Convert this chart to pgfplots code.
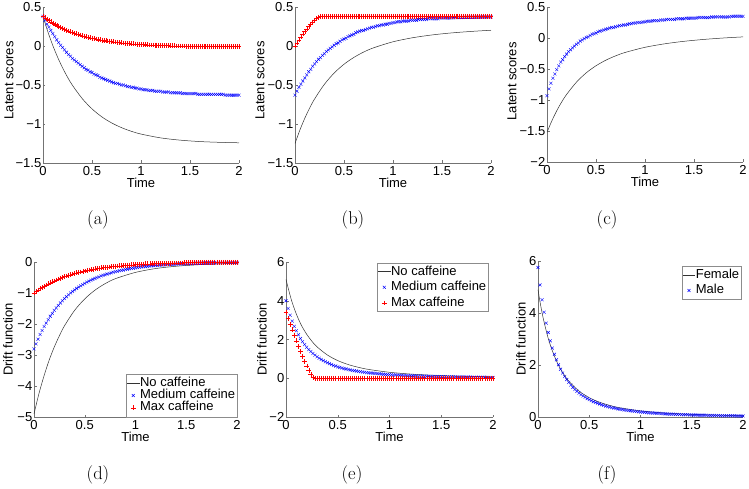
\documentclass[border=0pt]{standalone}
\usepackage{fontspec}
\newfontfamily\plotfont{Liberation Sans}
\usepackage{pgfplots}
\usepackage{pgfplotstable}
\pgfplotsset{compat=1.18}
\pgfplotsset{
 panel/.style={
  scale only axis, anchor=south west, clip=false,
  axis x line*=bottom, axis y line*=left,
  xmin=0, xmax=2, xtick={0,0.5,1,1.5,2}, xticklabels={0,0.5,1,1.5,2},
  tick align=inside, major tick length=2.5pt,
  axis line style={black!55, line width=0.5pt},
  every tick/.style={black!55, line width=0.5pt},
  tick label style={font=\plotfont\fontsize{13}{13}\selectfont},
  yticklabel style={inner xsep=1.5pt},
  label style={font=\plotfont\fontsize{13}{13}\selectfont},
  xlabel={Time},
  xlabel style={at={(axis description cs:0.5,0)}, anchor=center, yshift=-20pt},
  legend cell align=left,
  legend image code/.code={\draw[mark repeat=2,mark phase=2,##1] plot coordinates {(0cm,0cm) (0.21cm,0cm) (0.42cm,0cm)};},
  legend style={font=\plotfont\fontsize{13}{13}\selectfont, draw=black!45, line width=0.4pt, inner xsep=1pt, inner ysep=2pt,
    nodes={inner sep=0.6pt, text height=9.5pt, text depth=2.5pt}, row sep=2.5pt},
 },
 blk/.style={draw=black!80, line width=0.5pt, no markers, smooth},
 blu/.style={only marks, mark=x, mark size=2.1pt, blue, mark options={line width=0.4pt}},
 rd/.style={only marks, mark=+, mark size=2.4pt, red, mark options={line width=0.4pt}},
}
\pgfplotstableread{
t blue red
0 0.38 0.380
0.02 0.33 0.361
0.04 0.28 0.343
0.06 0.24 0.325
0.08 0.20 0.309
0.1 0.16 0.293
0.12 0.12 0.278
0.14 0.08 0.264
0.16 0.045 0.251
0.18 0.01 0.238
0.2 -0.02 0.226
0.22 -0.05 0.214
0.24 -0.08 0.203
0.26 -0.11 0.193
0.28 -0.13 0.183
0.3 -0.16 0.173
0.32 -0.18 0.164
0.34 -0.20 0.156
0.36 -0.22 0.147
0.38 -0.24 0.140
0.4 -0.26 0.132
0.42 -0.28 0.125
0.44 -0.30 0.119
0.46 -0.31 0.112
0.48 -0.33 0.106
0.5 -0.34 0.100
0.52 -0.36 0.095
0.54 -0.37 0.090
0.56 -0.38 0.085
0.58 -0.40 0.080
0.6 -0.41 0.075
0.62 -0.42 0.071
0.64 -0.43 0.067
0.66 -0.44 0.063
0.68 -0.45 0.060
0.7 -0.46 0.056
0.72 -0.47 0.053
0.74 -0.48 0.050
0.76 -0.48 0.047
0.78 -0.49 0.044
0.8 -0.50 0.041
0.82 -0.50 0.038
0.84 -0.51 0.036
0.86 -0.52 0.034
0.88 -0.52 0.031
0.9 -0.53 0.029
0.92 -0.53 0.027
0.94 -0.54 0.025
0.96 -0.54 0.024
0.98 -0.55 0.022
1 -0.55 0.020
1.02 -0.56 0.019
1.04 -0.56 0.017
1.06 -0.56 0.016
1.08 -0.57 0.014
1.1 -0.57 0.013
1.12 -0.57 0.012
1.14 -0.58 0.011
1.16 -0.58 0.010
1.18 -0.58 0.009
1.2 -0.58 0.008
1.22 -0.59 0.007
1.24 -0.59 0.006
1.26 -0.59 0.005
1.28 -0.59 0.004
1.3 -0.60 0.003
1.32 -0.60 0.002
1.34 -0.60 0.002
1.36 -0.60 0.001
1.38 -0.60 0.000
1.4 -0.60 0.000
1.42 -0.61 -0.001
1.44 -0.61 -0.001
1.46 -0.61 -0.002
1.48 -0.61 -0.002
1.5 -0.61 -0.003
1.52 -0.61 -0.003
1.54 -0.61 -0.004
1.56 -0.61 -0.004
1.58 -0.62 -0.004
1.6 -0.62 -0.005
1.62 -0.62 -0.005
1.64 -0.62 -0.005
1.66 -0.62 -0.006
1.68 -0.62 -0.006
1.7 -0.62 -0.006
1.72 -0.62 -0.007
1.74 -0.62 -0.007
1.76 -0.62 -0.007
1.78 -0.62 -0.007
1.8 -0.62 -0.008
1.82 -0.62 -0.008
1.84 -0.62 -0.008
1.86 -0.63 -0.008
1.88 -0.63 -0.008
1.9 -0.63 -0.009
1.92 -0.63 -0.009
1.94 -0.63 -0.009
1.96 -0.63 -0.009
1.98 -0.63 -0.009
2 -0.63 -0.009
}\tabA
\pgfplotstableread{
t blue red
0 -0.63 0.000
0.02 -0.58 0.040
0.04 -0.53 0.079
0.06 -0.49 0.117
0.08 -0.45 0.153
0.1 -0.41 0.188
0.12 -0.37 0.220
0.14 -0.33 0.251
0.16 -0.30 0.280
0.18 -0.26 0.307
0.2 -0.23 0.331
0.22 -0.20 0.352
0.24 -0.17 0.370
0.26 -0.15 0.380
0.28 -0.12 0.380
0.3 -0.10 0.380
0.32 -0.07 0.380
0.34 -0.05 0.380
0.36 -0.03 0.380
0.38 -0.01 0.380
0.4 0.01 0.380
0.42 0.03 0.380
0.44 0.04 0.380
0.46 0.06 0.380
0.48 0.08 0.380
0.5 0.09 0.380
0.52 0.10 0.380
0.54 0.12 0.380
0.56 0.13 0.380
0.58 0.14 0.380
0.6 0.15 0.380
0.62 0.17 0.380
0.64 0.18 0.380
0.66 0.19 0.380
0.68 0.20 0.380
0.7 0.20 0.380
0.72 0.21 0.380
0.74 0.22 0.380
0.76 0.23 0.380
0.78 0.24 0.380
0.8 0.24 0.380
0.82 0.25 0.380
0.84 0.26 0.380
0.86 0.26 0.380
0.88 0.27 0.380
0.9 0.27 0.380
0.92 0.28 0.380
0.94 0.28 0.380
0.96 0.29 0.380
0.98 0.29 0.380
1 0.30 0.380
1.02 0.30 0.380
1.04 0.31 0.380
1.06 0.31 0.380
1.08 0.31 0.380
1.1 0.32 0.380
1.12 0.32 0.380
1.14 0.32 0.380
1.16 0.32 0.380
1.18 0.33 0.380
1.2 0.33 0.380
1.22 0.33 0.380
1.24 0.33 0.380
1.26 0.34 0.380
1.28 0.34 0.380
1.3 0.34 0.380
1.32 0.34 0.380
1.34 0.34 0.380
1.36 0.35 0.380
1.38 0.35 0.380
1.4 0.35 0.380
1.42 0.35 0.380
1.44 0.35 0.380
1.46 0.35 0.380
1.48 0.36 0.380
1.5 0.36 0.380
1.52 0.36 0.380
1.54 0.36 0.380
1.56 0.36 0.380
1.58 0.36 0.380
1.6 0.362 0.380
1.62 0.362 0.380
1.64 0.363 0.380
1.66 0.364 0.380
1.68 0.365 0.380
1.7 0.366 0.380
1.72 0.366 0.380
1.74 0.367 0.380
1.76 0.368 0.380
1.78 0.368 0.380
1.8 0.369 0.380
1.82 0.369 0.380
1.84 0.370 0.380
1.86 0.370 0.380
1.88 0.371 0.380
1.9 0.371 0.380
1.92 0.372 0.380
1.94 0.372 0.380
1.96 0.373 0.380
1.98 0.373 0.380
2 0.373 0.380
}\tabB
\pgfplotstableread{
t blue
0 -0.93
0.02 -0.82
0.04 -0.73
0.06 -0.65
0.08 -0.58
0.1 -0.51
0.12 -0.45
0.14 -0.39
0.16 -0.35
0.18 -0.30
0.2 -0.26
0.22 -0.22
0.24 -0.19
0.26 -0.16
0.28 -0.13
0.3 -0.10
0.32 -0.08
0.34 -0.05
0.36 -0.03
0.38 -0.01
0.4 0.01
0.42 0.02
0.44 0.04
0.46 0.06
0.48 0.07
0.5 0.08
0.52 0.10
0.54 0.11
0.56 0.12
0.58 0.13
0.6 0.14
0.62 0.15
0.64 0.16
0.66 0.17
0.68 0.17
0.7 0.18
0.72 0.19
0.74 0.20
0.76 0.20
0.78 0.21
0.8 0.21
0.82 0.22
0.84 0.23
0.86 0.23
0.88 0.24
0.9 0.24
0.92 0.25
0.94 0.25
0.96 0.25
0.98 0.26
1 0.26
1.02 0.27
1.04 0.27
1.06 0.27
1.08 0.28
1.1 0.28
1.12 0.28
1.14 0.28
1.16 0.29
1.18 0.29
1.2 0.29
1.22 0.30
1.24 0.30
1.26 0.30
1.28 0.30
1.3 0.30
1.32 0.31
1.34 0.31
1.36 0.31
1.38 0.31
1.4 0.31
1.42 0.32
1.44 0.32
1.46 0.32
1.48 0.32
1.5 0.32
1.52 0.32
1.54 0.33
1.56 0.33
1.58 0.33
1.6 0.33
1.62 0.33
1.64 0.33
1.66 0.33
1.68 0.34
1.7 0.34
1.72 0.34
1.74 0.34
1.76 0.34
1.78 0.34
1.8 0.34
1.82 0.34
1.84 0.34
1.86 0.34
1.88 0.35
1.9 0.35
1.92 0.35
1.94 0.35
1.96 0.35
1.98 0.35
2 0.35
}\tabC
\pgfplotstableread{
t blue red
0 -2.80 -1.00
0.02 -2.64 -0.95
0.04 -2.49 -0.90
0.06 -2.34 -0.86
0.08 -2.21 -0.82
0.1 -2.08 -0.78
0.12 -1.97 -0.74
0.14 -1.86 -0.70
0.16 -1.75 -0.67
0.18 -1.66 -0.64
0.2 -1.56 -0.61
0.22 -1.48 -0.58
0.24 -1.40 -0.55
0.26 -1.32 -0.52
0.28 -1.25 -0.50
0.3 -1.18 -0.47
0.32 -1.12 -0.45
0.34 -1.06 -0.43
0.36 -1.00 -0.41
0.38 -0.95 -0.39
0.4 -0.90 -0.37
0.42 -0.85 -0.35
0.44 -0.81 -0.33
0.46 -0.77 -0.32
0.48 -0.73 -0.30
0.5 -0.69 -0.29
0.52 -0.65 -0.27
0.54 -0.62 -0.26
0.56 -0.59 -0.25
0.58 -0.56 -0.23
0.6 -0.53 -0.22
0.62 -0.50 -0.21
0.64 -0.48 -0.20
0.66 -0.45 -0.19
0.68 -0.43 -0.18
0.7 -0.41 -0.17
0.72 -0.39 -0.17
0.74 -0.37 -0.16
0.76 -0.35 -0.15
0.78 -0.33 -0.14
0.8 -0.31 -0.14
0.82 -0.30 -0.13
0.84 -0.28 -0.12
0.86 -0.27 -0.12
0.88 -0.26 -0.11
0.9 -0.24 -0.11
0.92 -0.23 -0.10
0.94 -0.22 -0.10
0.96 -0.21 -0.09
0.98 -0.20 -0.09
1 -0.19 -0.08
1.02 -0.18 -0.08
1.04 -0.17 -0.07
1.06 -0.16 -0.07
1.08 -0.15 -0.07
1.1 -0.15 -0.06
1.12 -0.14 -0.06
1.14 -0.13 -0.06
1.16 -0.12 -0.06
1.18 -0.12 -0.05
1.2 -0.11 -0.05
1.22 -0.11 -0.05
1.24 -0.10 -0.05
1.26 -0.10 -0.04
1.28 -0.09 -0.04
1.3 -0.09 -0.04
1.32 -0.08 -0.04
1.34 -0.08 -0.04
1.36 -0.08 -0.03
1.38 -0.07 -0.03
1.4 -0.07 -0.03
1.42 -0.06 -0.03
1.44 -0.06 -0.03
1.46 -0.06 -0.03
1.48 -0.06 -0.02
1.5 -0.05 -0.02
1.52 -0.05 -0.02
1.54 -0.05 -0.02
1.56 -0.05 -0.02
1.58 -0.04 -0.02
1.6 -0.04 -0.02
1.62 -0.04 -0.02
1.64 -0.04 -0.02
1.66 -0.04 -0.02
1.68 -0.03 -0.02
1.7 -0.03 -0.01
1.72 -0.03 -0.01
1.74 -0.03 -0.01
1.76 -0.03 -0.01
1.78 -0.03 -0.01
1.8 -0.02 -0.01
1.82 -0.02 -0.01
1.84 -0.02 -0.01
1.86 -0.02 -0.01
1.88 -0.02 -0.01
1.9 -0.02 -0.01
1.92 -0.02 -0.01
1.94 -0.02 -0.01
1.96 -0.02 -0.01
1.98 -0.02 -0.01
2 -0.02 -0.01
}\tabD
\pgfplotstableread{
t blue red
0 4.00 3.40
0.02 3.60 3.09
0.04 3.25 2.79
0.06 2.95 2.50
0.08 2.68 2.21
0.1 2.45 1.93
0.12 2.24 1.65
0.14 2.05 1.38
0.16 1.89 1.12
0.18 1.74 0.87
0.2 1.60 0.63
0.22 1.48 0.40
0.24 1.38 0.20
0.26 1.28 0.03
0.28 1.19 0.00
0.3 1.11 0.00
0.32 1.03 0.00
0.34 0.97 0.00
0.36 0.91 0.00
0.38 0.85 0.00
0.4 0.80 0.00
0.42 0.75 0.00
0.44 0.71 0.00
0.46 0.66 0.00
0.48 0.63 0.00
0.5 0.59 0.00
0.52 0.56 0.00
0.54 0.53 0.00
0.56 0.50 0.00
0.58 0.48 0.00
0.6 0.45 0.00
0.62 0.43 0.00
0.64 0.41 0.00
0.66 0.39 0.00
0.68 0.37 0.00
0.7 0.35 0.00
0.72 0.34 0.00
0.74 0.32 0.00
0.76 0.31 0.00
0.78 0.29 0.00
0.8 0.28 0.00
0.82 0.27 0.00
0.84 0.26 0.00
0.86 0.25 0.00
0.88 0.24 0.00
0.9 0.23 0.00
0.92 0.22 0.00
0.94 0.21 0.00
0.96 0.20 0.00
0.98 0.19 0.00
1 0.19 0.00
1.02 0.18 0.00
1.04 0.17 0.00
1.06 0.17 0.00
1.08 0.16 0.00
1.1 0.15 0.00
1.12 0.15 0.00
1.14 0.14 0.00
1.16 0.14 0.00
1.18 0.13 0.00
1.2 0.13 0.00
1.22 0.13 0.00
1.24 0.12 0.00
1.26 0.12 0.00
1.28 0.11 0.00
1.3 0.11 0.00
1.32 0.11 0.00
1.34 0.10 0.00
1.36 0.10 0.00
1.38 0.10 0.00
1.4 0.09 0.00
1.42 0.09 0.00
1.44 0.09 0.00
1.46 0.09 0.00
1.48 0.08 0.00
1.5 0.08 0.00
1.52 0.08 0.00
1.54 0.08 0.00
1.56 0.07 0.00
1.58 0.07 0.00
1.6 0.07 0.00
1.62 0.07 0.00
1.64 0.07 0.00
1.66 0.06 0.00
1.68 0.06 0.00
1.7 0.06 0.00
1.72 0.06 0.00
1.74 0.06 0.00
1.76 0.06 0.00
1.78 0.06 0.00
1.8 0.05 0.00
1.82 0.05 0.00
1.84 0.05 0.00
1.86 0.05 0.00
1.88 0.05 0.00
1.9 0.05 0.00
1.92 0.05 0.00
1.94 0.05 0.00
1.96 0.04 0.00
1.98 0.04 0.00
2 0.04 0.00
}\tabE
\pgfplotstableread{
t blue
0 5.75
0.02 5.08
0.04 4.51
0.06 4.03
0.08 3.61
0.1 3.25
0.12 2.93
0.14 2.65
0.16 2.41
0.18 2.20
0.2 2.01
0.22 1.84
0.24 1.69
0.26 1.56
0.28 1.44
0.3 1.33
0.32 1.23
0.34 1.14
0.36 1.06
0.38 0.99
0.4 0.92
0.42 0.86
0.44 0.81
0.46 0.76
0.48 0.71
0.5 0.67
0.52 0.63
0.54 0.59
0.56 0.56
0.58 0.53
0.6 0.50
0.62 0.47
0.64 0.45
0.66 0.42
0.68 0.40
0.7 0.38
0.72 0.36
0.74 0.35
0.76 0.33
0.78 0.31
0.8 0.30
0.82 0.29
0.84 0.27
0.86 0.26
0.88 0.25
0.9 0.24
0.92 0.23
0.94 0.22
0.96 0.21
0.98 0.20
1 0.19
1.02 0.19
1.04 0.18
1.06 0.17
1.08 0.16
1.1 0.16
1.12 0.15
1.14 0.15
1.16 0.14
1.18 0.14
1.2 0.13
1.22 0.13
1.24 0.12
1.26 0.12
1.28 0.11
1.3 0.11
1.32 0.11
1.34 0.10
1.36 0.10
1.38 0.10
1.4 0.09
1.42 0.09
1.44 0.09
1.46 0.09
1.48 0.08
1.5 0.08
1.52 0.08
1.54 0.08
1.56 0.07
1.58 0.07
1.6 0.07
1.62 0.07
1.64 0.07
1.66 0.06
1.68 0.06
1.7 0.06
1.72 0.06
1.74 0.06
1.76 0.06
1.78 0.05
1.8 0.05
1.82 0.05
1.84 0.05
1.86 0.05
1.88 0.05
1.9 0.05
1.92 0.05
1.94 0.04
1.96 0.04
1.98 0.04
2 0.04
}\tabF
\begin{document}
\begin{tikzpicture}
\path[use as bounding box] (0pt,0pt) rectangle (749pt,488pt);
% (a)
\begin{axis}[panel, at={(43pt,325pt)}, width=196pt, height=156pt,
  ymin=-1.5, ymax=0.5, ytick={-1.5,-1,-0.5,0,0.5}, yticklabels={−1.5,−1,−0.5,0,0.5},
  ylabel={Latent scores}, ylabel style={at={(axis description cs:-0.173,0.53)}, anchor=center}]
\addplot[blk] coordinates {(0,0.38) (0.05,0.181) (0.1,0.007) (0.15,-0.146) (0.2,-0.280) (0.25,-0.399) (0.3,-0.503) (0.4,-0.674) (0.5,-0.806) (0.6,-0.908) (0.7,-0.986) (0.8,-1.046) (0.9,-1.093) (1,-1.129) (1.2,-1.178) (1.4,-1.207) (1.6,-1.225) (1.8,-1.235) (2,-1.241)};
\addplot[blu] table[x=t,y=blue] {\tabA};
\addplot[rd] table[x=t,y=red] {\tabA};
\end{axis}
% (b)
\begin{axis}[panel, at={(295pt,325pt)}, width=196pt, height=156pt,
  ymin=-1.5, ymax=0.5, ytick={-1.5,-1,-0.5,0,0.5}, yticklabels={−1.5,−1,−0.5,0,0.5},
  ylabel={Latent scores}, ylabel style={at={(axis description cs:-0.179,0.53)}, anchor=center}]
\addplot[blk] coordinates {(0,-1.25) (0.05,-1.077) (0.1,-0.926) (0.15,-0.794) (0.2,-0.679) (0.3,-0.491) (0.4,-0.346) (0.5,-0.234) (0.6,-0.147) (0.7,-0.078) (0.8,-0.024) (1,0.054) (1.2,0.106) (1.4,0.142) (1.6,0.168) (1.8,0.187) (2,0.202)};
\addplot[blu] table[x=t,y=blue] {\tabB};
\addplot[rd] table[x=t,y=red] {\tabB};
\end{axis}
% (c)
\begin{axis}[panel, at={(547pt,326pt)}, width=196pt, height=155pt,
  ymin=-2, ymax=0.5, ytick={-2,-1.5,-1,-0.5,0,0.5}, yticklabels={−2,−1.5,−1,−0.5,0,0.5},
  ylabel={Latent scores}, ylabel style={at={(axis description cs:-0.179,0.52)}, anchor=center}]
\addplot[blk] coordinates {(0,-1.52) (0.05,-1.334) (0.1,-1.172) (0.15,-1.031) (0.2,-0.910) (0.3,-0.713) (0.4,-0.562) (0.5,-0.448) (0.6,-0.358) (0.7,-0.288) (0.8,-0.232) (1,-0.150) (1.2,-0.094) (1.4,-0.053) (1.6,-0.023) (1.8,0.000) (2,0.018)};
\addplot[blu] table[x=t,y=blue] {\tabC};
\end{axis}
% (d)
\begin{axis}[panel, at={(34pt,71pt)}, width=203pt, height=155pt,
  ymin=-5, ymax=0, ytick={-5,-4,-3,-2,-1,0}, yticklabels={−5,−4,−3,−2,−1,0},
  ylabel={Drift function}, ylabel style={at={(axis description cs:-0.128,0.5)}, anchor=center},
  legend style={at={(rel axis cs:1,0)}, anchor=south east, inner ysep=3pt, nodes={text height=8.5pt, text depth=2.5pt}, row sep=0pt}]
\addplot[blk] coordinates {(0,-4.90) (0.05,-4.23) (0.1,-3.66) (0.15,-3.16) (0.2,-2.74) (0.25,-2.38) (0.3,-2.06) (0.4,-1.56) (0.5,-1.19) (0.6,-0.91) (0.7,-0.70) (0.8,-0.54) (1,-0.335) (1.2,-0.21) (1.4,-0.137) (1.6,-0.092) (1.8,-0.063) (2,-0.044)};
\addplot[blu] table[x=t,y=blue] {\tabD};
\addplot[rd] table[x=t,y=red] {\tabD};
\legend{No caffeine,Medium caffeine,Max caffeine}
\end{axis}
% (e)
\begin{axis}[panel, at={(286pt,71pt)}, width=207pt, height=155pt,
  ymin=-2, ymax=6, ytick={-2,0,2,4,6}, yticklabels={−2,0,2,4,6},
  ylabel={Drift function}, ylabel style={at={(axis description cs:-0.116,0.5)}, anchor=center},
  legend style={at={(rel axis cs:0.976,0.995)}, anchor=north east}]
\addplot[blk] coordinates {(0,5.10) (0.05,4.08) (0.1,3.31) (0.15,2.72) (0.2,2.27) (0.25,1.91) (0.3,1.62) (0.4,1.20) (0.5,0.912) (0.6,0.709) (0.7,0.563) (0.8,0.454) (1,0.308) (1.2,0.218) (1.4,0.160) (1.6,0.121) (1.8,0.094) (2,0.074)};
\addplot[blu] table[x=t,y=blue] {\tabE};
\addplot[rd] table[x=t,y=red] {\tabE};
\legend{No caffeine,Medium caffeine,Max caffeine}
\end{axis}
% (f)
\begin{axis}[panel, at={(538pt,71pt)}, width=205pt, height=156pt,
  ymin=0, ymax=6, ytick={0,2,4,6}, yticklabels={0,2,4,6},
  ylabel={Drift function}, ylabel style={at={(axis description cs:-0.083,0.5)}, anchor=center},
  legend style={at={(rel axis cs:0.99,0.968)}, anchor=north east}]
\addplot[blk] coordinates {(0,4.90) (0.02,4.42) (0.05,3.81) (0.1,3.02) (0.15,2.44) (0.2,1.99) (0.25,1.65) (0.3,1.38) (0.4,0.997) (0.5,0.743) (0.6,0.569) (0.7,0.445) (0.8,0.354) (1,0.236) (1.2,0.164) (1.4,0.119) (1.6,0.089) (1.8,0.069) (2,0.054)};
\addplot[blu] table[x=t,y=blue] {\tabF};
\legend{Female,Male}
\end{axis}
\node[font=\fontsize{18.5}{20}\selectfont] at (98pt,268pt) {(a)};
\node[font=\fontsize{18.5}{20}\selectfont] at (353pt,268pt) {(b)};
\node[font=\fontsize{18.5}{20}\selectfont] at (607pt,268pt) {(c)};
\node[font=\fontsize{18.5}{20}\selectfont] at (98pt,13pt) {(d)};
\node[font=\fontsize{18.5}{20}\selectfont] at (352pt,13pt) {(e)};
\node[font=\fontsize{18.5}{20}\selectfont] at (607pt,13pt) {(f)};
\end{tikzpicture}
\end{document}
